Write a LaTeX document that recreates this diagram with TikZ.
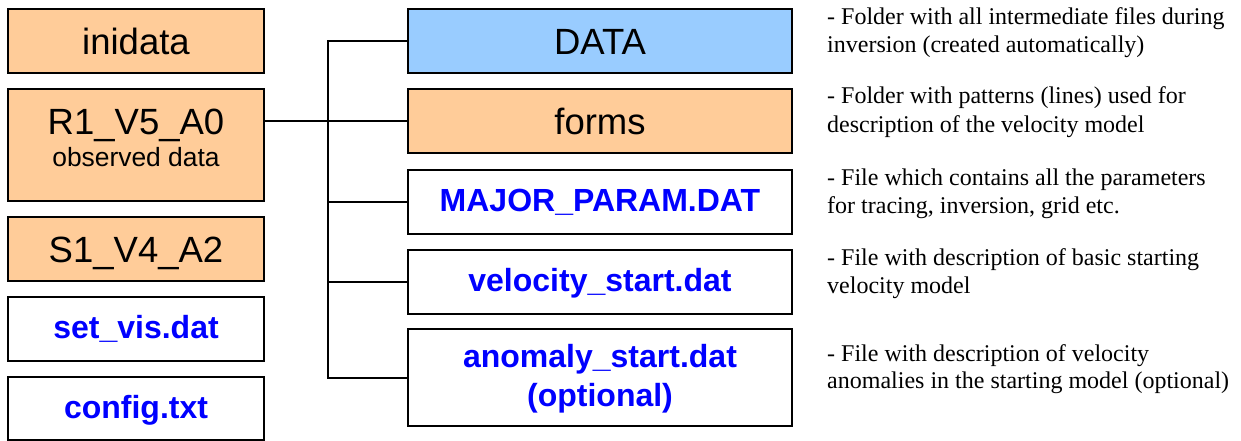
\documentclass[tikz,border=0pt]{standalone}
\usepackage{fontspec}
\setmainfont{Liberation Serif}
\newfontfamily\arialf{Liberation Sans}
\definecolor{folderorange}{HTML}{FFCC99}
\definecolor{folderblue}{HTML}{99CCFF}
\definecolor{fileblue}{HTML}{0000FF}
\begin{document}
\begin{tikzpicture}[x=1pt,y=-1pt,
  box/.style={draw=black, line width=2pt, inner sep=0pt, rectangle},
  leftbox/.style={box, minimum width=256pt},
  rightbox/.style={box, minimum width=384pt},
  folder/.style={fill=folderorange, font=\arialf\fontsize{36.5}{40}\selectfont, text height=27pt, text depth=0pt},
  datafolder/.style={folder, fill=folderblue},
  filebox/.style={fill=white, text=fileblue, font=\arialf\bfseries\fontsize{32}{36}\selectfont, text height=19pt, text depth=0pt},
  subtext/.style={anchor=base, inner sep=0pt},
  desc/.style={anchor=base west, inner sep=0pt, font=\fontsize{24}{28}\selectfont},
  conn/.style={draw=black, line width=2pt}]
\useasboundingbox (0,0) rectangle (1241,441);

% left column
\node[leftbox, folder, minimum height=64pt] (ini) at (136,41) {inidata};
\node[leftbox, folder, minimum height=112pt, text height=0pt, text depth=20pt] (R1) at (136,145) {R1\_V5\_A0};
\node[subtext, font=\arialf\fontsize{26.4}{30}\selectfont] (R1sub) at (136,166) {observed data};
\node[leftbox, folder, minimum height=64pt] (S1) at (136,249) {S1\_V4\_A2};
\node[leftbox, filebox, minimum height=64pt] (setvis) at (136,329) {set\_vis.dat};
\node[leftbox, filebox, minimum height=63pt] (config) at (136,408.5) {config.txt};

% right column
\node[rightbox, datafolder, minimum height=64pt] (data) at (600,41) {DATA};
\node[rightbox, folder, minimum height=64pt] (forms) at (600,121) {forms};
\node[rightbox, filebox, minimum height=64pt] (major) at (600,202) {MAJOR\_PARAM.DAT};
\node[rightbox, filebox, minimum height=64pt] (vel) at (600,282) {velocity\_start.dat};
\node[rightbox, filebox, minimum height=97pt, text height=0pt, text depth=21pt] (anom) at (600,377.5) {anomaly\_start.dat};
\node[subtext, text=fileblue, font=\arialf\bfseries\fontsize{32}{36}\selectfont] (anomopt) at (600,406) {(optional)};

% connectors
\coordinate (trunk) at (328,41);
\draw[conn] (data.west) -- (data.west -| trunk) -- (anom.west -| trunk) -- (anom.west);
\draw[conn] (major.west) -- (major.west -| trunk);
\draw[conn] (vel.west) -- (vel.west -| trunk);
\draw[conn] (R1.east |- forms.west) -- (forms.west);

% descriptions
\node[desc] (d1a) at (827,25) {- Folder with all intermediate files during};
\node[desc] (d1b) at (827,53) {inversion (created automatically)};
\node[desc] (d2a) at (827,104) {- Folder with patterns (lines) used for};
\node[desc] (d2b) at (827,132) {description of the velocity model};
\node[desc] (d3a) at (827,185) {- File which contains all the parameters};
\node[desc] (d3b) at (827,213) {for tracing, inversion, grid etc.};
\node[desc] (d4a) at (827,265) {- File with description of basic starting};
\node[desc] (d4b) at (827,293) {velocity model};
\node[desc] (d5a) at (827,361) {- File with description of velocity};
\node[desc] (d5b) at (827,388) {anomalies in the starting model (optional)};
\end{tikzpicture}
\end{document}
